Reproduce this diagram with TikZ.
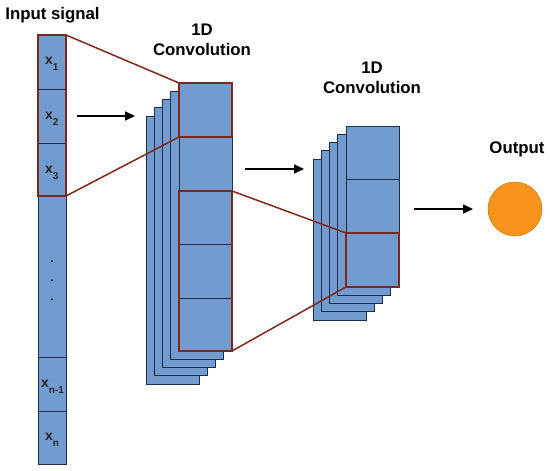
\documentclass[tikz,border=0pt]{standalone}
\usepackage{fontspec}
\setmainfont{Liberation Sans}
\usetikzlibrary{arrows.meta,fit}
\definecolor{cellblue}{RGB}{114,156,207}
\definecolor{edgec}{RGB}{30,45,70}
\definecolor{winred}{RGB}{125,40,30}
\definecolor{outorange}{RGB}{248,148,28}
\definecolor{outedge}{RGB}{190,140,30}
\tikzset{
  cell/.style={draw=edgec, fill=cellblue, line width=0.8pt, inner sep=0pt, outer sep=0pt},
  win/.style={draw=winred, line width=1.8pt, inner sep=0pt, outer sep=0pt},
  link/.style={draw=winred, line width=1.5pt},
  flow/.style={draw=black, line width=1.6pt, -{Triangle[length=10pt,width=9pt]}},
  head/.style={font=\fontsize{16.8}{20}\selectfont\bfseries, align=center, inner sep=0pt},
  lab/.style={font=\fontsize{14}{16}\selectfont\bfseries, inner sep=0pt, anchor=base west, text=black!85}
}
\newcommand{\xs}[1]{x\raisebox{-6.5pt}{\fontsize{10}{11}\selectfont #1}}
\begin{document}
\begin{tikzpicture}[x=1pt,y=-1pt]
\useasboundingbox (0,0) rectangle (550,471);
% ---------- input column ----------
\node[cell, minimum width=28pt, minimum height=54pt] (x1) at (52,62) {};
\node[cell, minimum width=28pt, minimum height=54pt] (x2) at (52,116) {};
\node[cell, minimum width=28pt, minimum height=53pt] (x3) at (52,169.5) {};
\node[cell, minimum width=28pt, minimum height=161pt] (xm) at (52,276.5) {};
\node[cell, minimum width=28pt, minimum height=54pt] (xn1) at (52,384) {};
\node[cell, minimum width=28pt, minimum height=53pt] (xn) at (52,437.5) {};
\node[lab] (l1) at (45,64) {\xs{1}};
\node[lab] (l2) at (45,119) {\xs{2}};
\node[lab] (l3) at (45,173) {\xs{3}};
\node[lab] (ln1) at (41,387) {\xs{n-1}};
\node[lab] (ln) at (45,440) {\xs{n}};
\node[font=\bfseries, inner sep=0pt] (d1) at (52,262) {.};
\node[font=\bfseries, inner sep=0pt] (d2) at (52,281) {.};
\node[font=\bfseries, inner sep=0pt] (d3) at (52,300) {.};
\node[win, fit=(x1)(x3)] (inwin) {};
% ---------- first convolution stack ----------
\foreach \i in {4,3,2,1}{
  \node[cell, minimum width=53pt, minimum height=268pt] (m\i) at ({205.5-8.25*\i},{217+8.25*\i}) {};
}
\node[cell, minimum width=53pt, minimum height=54pt] (c1) at (205.5,110) {};
\node[cell, minimum width=53pt, minimum height=54pt] (c2) at (205.5,164) {};
\node[cell, minimum width=53pt, minimum height=53pt] (c3) at (205.5,217.5) {};
\node[cell, minimum width=53pt, minimum height=54pt] (c4) at (205.5,271) {};
\node[cell, minimum width=53pt, minimum height=53pt] (c5) at (205.5,324.5) {};
\node[win, fit=(c1)] (win1) {};
\node[win, fit=(c3)(c5)] (win2) {};
% ---------- second convolution stack ----------
\foreach \i in {4,3,2,1}{
  \node[cell, minimum width=53pt, minimum height=161pt] (n\i) at ({372.5-8.25*\i},{206.5+8.25*\i}) {};
}
\node[cell, minimum width=53pt, minimum height=53pt] (e1) at (372.5,152.5) {};
\node[cell, minimum width=53pt, minimum height=54pt] (e2) at (372.5,206) {};
\node[cell, minimum width=53pt, minimum height=54pt] (e3) at (372.5,260) {};
\node[win, fit=(e3)] (win3) {};
% ---------- window links ----------
\draw[link] (inwin.north east) -- (win1.north west);
\draw[link] (inwin.south east) -- (win1.south west);
\draw[link] (win2.north east) -- (win3.north west);
\draw[link] (win2.south east) -- (win3.south west);
% ---------- output ----------
\node[circle, fill=outorange, draw=outedge, line width=0.6pt, minimum size=54pt, inner sep=0pt] (out) at (515,209) {};
% ---------- arrows ----------
\coordinate (a1s) at (77,116); \coordinate (a1e) at (135,116);
\coordinate (a2s) at (245,169); \coordinate (a2e) at (304,169);
\coordinate (a3s) at (414,209); \coordinate (a3e) at (473,209);
\draw[flow] (a1s) -- (a1e);
\draw[flow] (a2s) -- (a2e);
\draw[flow] (a3s) -- (a3e);
% ---------- headings ----------
\node[head] (h1) at (52.5,15) {Input signal};
\node[head] (h2) at (202,40) {1D\\Convolution};
\node[head] (h3) at (372,78) {1D\\Convolution};
\node[head] (h4) at (517,149) {Output};
\end{tikzpicture}
\end{document}
